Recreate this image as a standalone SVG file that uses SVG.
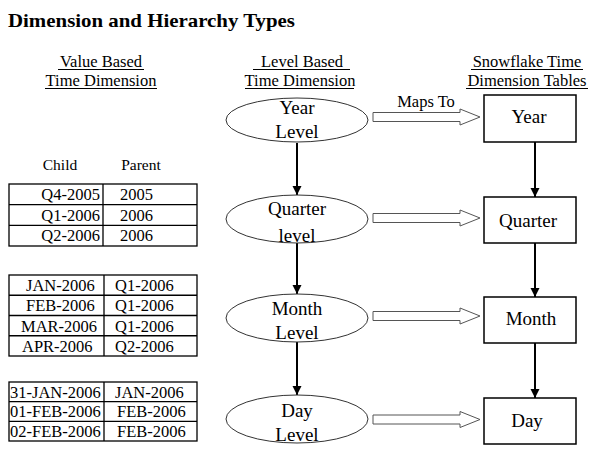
<svg xmlns="http://www.w3.org/2000/svg" width="602" height="458" viewBox="0 0 602 458">
<defs>
<style>
text{font-family:"Liberation Serif","Times New Roman",serif;fill:#000}
.title{font-size:19px;font-weight:bold}
.hdr{font-size:16.5px;text-anchor:middle}
.ul{stroke:#000;stroke-width:1}
.th{font-size:15.5px;text-anchor:middle}
.td{font-size:16.5px}
.cell{fill:none;stroke:#000;stroke-width:1.3}
.lvl{font-size:19px;text-anchor:middle}
.ell{fill:#fff;stroke:#333;stroke-width:1}
.box{fill:#fff;stroke:#000;stroke-width:1.5}
.hollow{fill:#fff;stroke:#555;stroke-width:1}
.vline{stroke:#000;stroke-width:2;fill:none}
</style>
<marker id="ah" viewBox="0 0 10 10" refX="10" refY="5" markerWidth="4.5" markerHeight="5" markerUnits="strokeWidth" orient="auto">
<path d="M0,0 L10,5 L0,10 Z" fill="#000"/>
</marker>
</defs>

<g id="title">
<text class="title" x="8" y="27" textLength="287" lengthAdjust="spacingAndGlyphs">Dimension and Hierarchy Types</text>
</g>

<g id="headers">
<text class="hdr" x="101" y="67">Value Based</text>
<line class="ul" x1="58" y1="69.5" x2="144" y2="69.5"/>
<text class="hdr" x="101" y="86">Time Dimension</text>
<line class="ul" x1="45" y1="88.5" x2="157" y2="88.5"/>
<text class="hdr" x="302" y="67">Level Based</text>
<line class="ul" x1="253" y1="69.5" x2="350" y2="69.5"/>
<text class="hdr" x="300" y="86">Time Dimension</text>
<line class="ul" x1="245" y1="88.5" x2="354" y2="88.5"/>
<text class="hdr" x="527" y="67">Snowflake Time</text>
<line class="ul" x1="471" y1="69.5" x2="583" y2="69.5"/>
<text class="hdr" x="527" y="86">Dimension Tables</text>
<line class="ul" x1="466" y1="88.5" x2="588" y2="88.5"/>
</g>

<g id="table-quarter">
<text class="th" x="60" y="170">Child</text>
<text class="th" x="141" y="170">Parent</text>
<rect class="cell" x="9" y="184" width="188" height="62"/>
<line class="cell" x1="103" y1="184" x2="103" y2="246"/>
<line class="cell" x1="9" y1="204.7" x2="197" y2="204.7"/>
<line class="cell" x1="9" y1="225.3" x2="197" y2="225.3"/>
<text class="td" x="100" y="200" text-anchor="end">Q4-2005</text>
<text class="td" x="120" y="200">2005</text>
<text class="td" x="100" y="220.7" text-anchor="end">Q1-2006</text>
<text class="td" x="120" y="220.7">2006</text>
<text class="td" x="100" y="241.3" text-anchor="end">Q2-2006</text>
<text class="td" x="120" y="241.3">2006</text>
</g>

<g id="table-month">
<rect class="cell" x="9" y="275" width="188" height="81"/>
<line class="cell" x1="104" y1="275" x2="104" y2="356"/>
<line class="cell" x1="9" y1="295.25" x2="197" y2="295.25"/>
<line class="cell" x1="9" y1="315.5" x2="197" y2="315.5"/>
<line class="cell" x1="9" y1="335.75" x2="197" y2="335.75"/>
<text class="td" x="26" y="291">JAN-2006</text>
<text class="td" x="115" y="291">Q1-2006</text>
<text class="td" x="26" y="311.25">FEB-2006</text>
<text class="td" x="115" y="311.25">Q1-2006</text>
<text class="td" x="21" y="331.5">MAR-2006</text>
<text class="td" x="115" y="331.5">Q1-2006</text>
<text class="td" x="22" y="351.75">APR-2006</text>
<text class="td" x="115" y="351.75">Q2-2006</text>
</g>

<g id="table-day">
<rect class="cell" x="9" y="382" width="188" height="59"/>
<line class="cell" x1="104" y1="382" x2="104" y2="441"/>
<line class="cell" x1="9" y1="401.7" x2="197" y2="401.7"/>
<line class="cell" x1="9" y1="421.3" x2="197" y2="421.3"/>
<text class="td" x="10" y="397.5">31-JAN-2006</text>
<text class="td" x="115" y="397.5">JAN-2006</text>
<text class="td" x="10" y="417.2">01-FEB-2006</text>
<text class="td" x="117" y="417.2">FEB-2006</text>
<text class="td" x="10" y="436.8">02-FEB-2006</text>
<text class="td" x="117" y="436.8">FEB-2006</text>
</g>

<g id="connectors">
<line class="vline" x1="297" y1="143" x2="297" y2="195" marker-end="url(#ah)"/>
<line class="vline" x1="297" y1="243" x2="297" y2="294" marker-end="url(#ah)"/>
<line class="vline" x1="297" y1="342" x2="297" y2="395" marker-end="url(#ah)"/>
<line class="vline" x1="535" y1="142" x2="535" y2="197" marker-end="url(#ah)"/>
<line class="vline" x1="535" y1="243" x2="535" y2="297" marker-end="url(#ah)"/>
<line class="vline" x1="535" y1="343" x2="535" y2="398" marker-end="url(#ah)"/>
<polygon class="hollow" points="373,112.5 460,112.5 460,109 480,117 460,125 460,121.5 373,121.5"/>
<polygon class="hollow" points="373,213.5 460,213.5 460,210 480,218 460,226 460,222.5 373,222.5"/>
<polygon class="hollow" points="373,311.5 460,311.5 460,308 480,316 460,324 460,320.5 373,320.5"/>
<polygon class="hollow" points="373,415 460,415 460,411.5 480,419.5 460,427.5 460,424 373,424"/>
<text x="426" y="107" font-size="16.5" text-anchor="middle">Maps To</text>
</g>

<g id="year-level">
<ellipse class="ell" cx="297" cy="120" rx="71" ry="22"/>
<text class="lvl" x="297" y="114">Year</text>
<text class="lvl" x="297" y="138">Level</text>
</g>
<g id="quarter-level">
<ellipse class="ell" cx="297" cy="219" rx="71" ry="24"/>
<text class="lvl" x="297" y="215">Quarter</text>
<text class="lvl" x="297" y="242">level</text>
</g>
<g id="month-level">
<ellipse class="ell" cx="297" cy="318" rx="71" ry="24"/>
<text class="lvl" x="297" y="315">Month</text>
<text class="lvl" x="297" y="339">Level</text>
</g>
<g id="day-level">
<ellipse class="ell" cx="297" cy="419" rx="71" ry="24"/>
<text class="lvl" x="297" y="417">Day</text>
<text class="lvl" x="297" y="441">Level</text>
</g>

<g id="year-table">
<rect class="box" x="484" y="95" width="92" height="47"/>
<text class="lvl" x="529" y="123">Year</text>
</g>
<g id="quarter-table">
<rect class="box" x="484" y="197" width="92" height="46"/>
<text class="lvl" x="528" y="227">Quarter</text>
</g>
<g id="month-table">
<rect class="box" x="484" y="297" width="92" height="46"/>
<text class="lvl" x="531" y="325">Month</text>
</g>
<g id="day-table">
<rect class="box" x="484" y="398" width="92" height="46"/>
<text class="lvl" x="527" y="427">Day</text>
</g>
</svg>
